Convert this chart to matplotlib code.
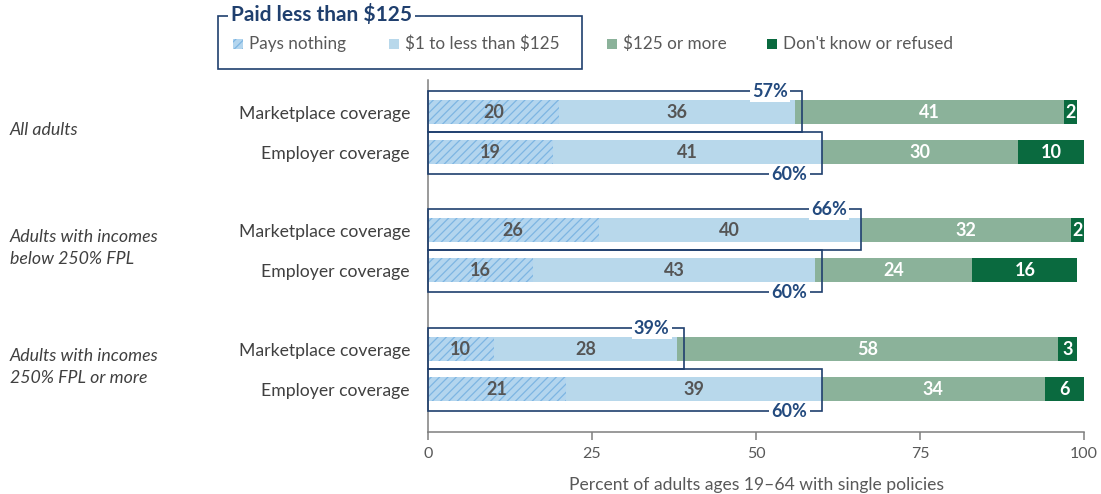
#!/usr/bin/env python

import matplotlib
matplotlib.use('Agg')
import matplotlib.pyplot as plt
import matplotlib.transforms as mtransforms
from matplotlib.patches import Rectangle

# data
groups = ['All adults',
          'Adults with incomes\nbelow 250% FPL',
          'Adults with incomes\n250% FPL or more']
coverage = ['Marketplace coverage', 'Employer coverage'] * 3
pays_nothing = [20, 19, 26, 16, 10, 21]
one_to_125 = [36, 41, 40, 43, 28, 39]
over_125 = [41, 30, 32, 24, 58, 34]
dont_know = [2, 10, 2, 16, 3, 6]
paid_less_total = [57, 60, 66, 60, 39, 60]

series_names = ['Pays nothing', '$1 to less than $125', '$125 or more', "Don't know or refused"]
xticks = [0, 25, 50, 75, 100]
xlabel = 'Percent of adults ages 19\u201364 with single policies'
legend_title = 'Paid less than $125'

# styling
plt.rcParams['font.family'] = ['Lato', 'DejaVu Sans']
plt.rcParams['text.parse_math'] = False
plt.rcParams['hatch.linewidth'] = 0.9

NAVY = '#1f3f6e'
LABEL_NAVY = '#234a7e'
GREY = '#595959'
HATCH_BG = '#b3d5ee'
HATCH_FG = '#7db5e2'
colors = [HATCH_BG, '#b8d8eb', '#8bb29a', '#0a6a3f']
text_colors = ['#555555', '#555555', 'white', 'white']

ypos = [0, 1, 2.95, 3.95, 5.925, 6.925]
bar_h = 0.58


def main():
    W, H = 1101, 494
    fig = plt.figure(figsize=(W / 100, H / 100), dpi=100)
    ax = fig.add_axes([428 / W, 1 - 432 / H, 656 / W, 352 / H])

    series = [pays_nothing, one_to_125, over_125, dont_know]
    left = [0] * len(ypos)
    for k, vals in enumerate(series):
        if k == 0:
            ax.barh(ypos, vals, left=left, height=bar_h, color=colors[k],
                    edgecolor=HATCH_FG, linewidth=0, hatch='////', zorder=2)
        else:
            ax.barh(ypos, vals, left=left, height=bar_h, color=colors[k],
                    linewidth=0, zorder=2)
        for y, l, v in zip(ypos, left, vals):
            ax.text(l + v / 2, y, str(v), ha='center', va='center',
                    fontsize=13, fontweight='bold', color=text_colors[k], zorder=4)
        left = [a + b for a, b in zip(left, vals)]

    # boxes around the "paid less than $125" part
    for i, (y, tot) in enumerate(zip(ypos, paid_less_total)):
        if i % 2 == 0:
            y0, y1 = y - 0.525, y + 0.5
            ly = y0
        else:
            y0, y1 = y - 0.5, y + 0.56
            ly = y1
        ax.add_patch(Rectangle((0, y0), tot, y1 - y0, fill=False,
                               edgecolor=NAVY, linewidth=1.2, zorder=3,
                               clip_on=False))
        ax.text(tot - 4.9, ly, f'{tot}%', ha='center', va='center',
                fontsize=13, fontweight='bold', color=LABEL_NAVY, zorder=5,
                bbox=dict(facecolor='white', edgecolor='none', pad=1.5))

    ax.set_xlim(0, 100)
    ax.set_ylim(8.0, -0.8)
    ax.set_xticks(xticks)
    ax.set_yticks(ypos, coverage)
    ax.tick_params(axis='y', length=0, pad=13, labelsize=12.7, labelcolor='#404040')
    ax.tick_params(axis='x', length=6, width=1.1, color='#7f7f7f', pad=5,
                   labelsize=11.5, labelcolor=GREY)
    for s in ['top', 'right']:
        ax.spines[s].set_visible(False)
    for s in ['left', 'bottom']:
        ax.spines[s].set_color('#7f7f7f')
        ax.spines[s].set_linewidth(1.1)
    ax.set_xlabel(xlabel, fontsize=12.6, color=GREY, labelpad=11)

    # group labels on the far left
    trans = mtransforms.blended_transform_factory(fig.transFigure, ax.transData)
    for g, name in enumerate(groups):
        yc = (ypos[2 * g] + ypos[2 * g + 1]) / 2 - 0.05
        ax.text(10 / W, yc, name, transform=trans, ha='left', va='center',
                fontsize=12.8, style='italic', color='#404040', linespacing=1.4)

    # legend drawn in pixel space
    lax = fig.add_axes([0, 0, 1, 1])
    lax.set_xlim(0, W)
    lax.set_ylim(H, 0)
    lax.axis('off')
    lax.add_patch(Rectangle((218, 16), 364, 53, fill=False, edgecolor=NAVY,
                            linewidth=1.2))
    lax.text(231, 15, legend_title, ha='left', va='center', fontsize=15,
             fontweight='bold', color=NAVY,
             bbox=dict(facecolor='white', edgecolor='none', pad=2))
    item_x = [233, 389, 607, 767]
    for k, (x, name) in enumerate(zip(item_x, series_names)):
        if k == 0:
            lax.add_patch(Rectangle((x, 39), 10, 10, facecolor=HATCH_BG,
                                    edgecolor=HATCH_FG, linewidth=0, hatch='////'))
        else:
            lax.add_patch(Rectangle((x, 39), 10, 10, facecolor=colors[k],
                                    linewidth=0))
        lax.text(x + 16, 44, name, ha='left', va='center', fontsize=12.3,
                 color=GREY)

    fig.savefig('out.png', dpi=100)


if __name__ == '__main__':
    main()
